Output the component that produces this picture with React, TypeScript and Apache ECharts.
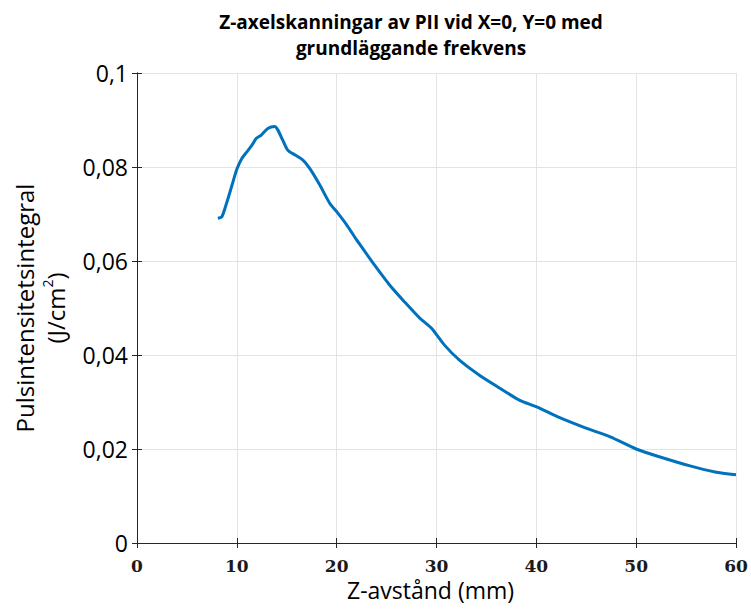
import React, { useEffect, useRef } from "react";
import * as echarts from "echarts";

const zDistance = [8.1, 8.5, 9.0, 9.5, 10.0, 10.5, 11.0, 11.5, 11.95, 12.45, 13.1, 13.8, 14.1, 14.6, 15.1, 15.8, 16.6, 17.3, 18.3, 19.3, 20.0, 21.0, 22.0, 22.5, 23.8, 25.3, 26.8, 28.3, 29.5, 30.8, 32.3, 34.3, 36.3, 38.3, 40.1, 42.4, 44.9, 47.4, 50.0, 52.4, 55.4, 57.9, 60.0];
const pii = [0.0691, 0.0694, 0.0725, 0.0760, 0.0795, 0.0818, 0.0832, 0.0846, 0.0861, 0.0868, 0.0882, 0.0886, 0.0879, 0.0857, 0.0836, 0.0826, 0.0815, 0.0797, 0.0762, 0.0723, 0.0705, 0.0677, 0.0645, 0.0630, 0.0591, 0.0549, 0.0513, 0.0479, 0.0457, 0.0421, 0.0389, 0.0357, 0.0330, 0.0304, 0.0289, 0.0266, 0.0245, 0.0226, 0.0200, 0.0183, 0.0164, 0.0151, 0.0145];

const titleLines = ["Z-axelskanningar av PII vid X=0, Y=0 med", "grundläggande frekvens"];
const xName = "Z-avstånd (mm)";
const yName = "Pulsintensitetsintegral\n(J/cm{sup|2})";

export default function App() {
  const ref = useRef<HTMLDivElement>(null);
  useEffect(() => {
    if (!ref.current) return;
    const chart = echarts.init(ref.current, null, { renderer: "svg" });
    const data = zDistance.map((x, i) => [x, pii[i]]);
    const axisColor = "#262626";
    const gridColor = "#e3e3e3";
    chart.setOption({
      animation: false,
      backgroundColor: "#ffffff",
      title: {
        text: titleLines.join("\n"),
        left: 406,
        textAlign: "center",
        top: 4,
        textStyle: {
          fontFamily: "Open Sans",
          fontWeight: "bold",
          fontSize: 19,
          lineHeight: 26,
          color: "#000",
        },
      },
      grid: { left: 137, right: 15, top: 73, bottom: 66, containLabel: false, outerBoundsMode: "none" },
      xAxis: [
        {
          type: "value",
          min: 0,
          max: 60,
          interval: 10,
          name: xName,
          nameLocation: "middle",
          nameGap: 34,
          nameTextStyle: { fontFamily: "Open Sans", fontSize: 23, color: "#000", padding: [0, 12, 0, 0] },
          axisLine: { show: true, lineStyle: { color: axisColor, width: 1 } },
          axisTick: { show: true, inside: true, length: 5, lineStyle: { color: axisColor } },
          axisLabel: {
            margin: 14,
            fontFamily: "DejaVu Serif",
            fontWeight: "bold",
            fontSize: 17,
            color: "#1a1a1a",
          },
          splitLine: { show: true, lineStyle: { color: gridColor, width: 1 } },
        },
        {
          type: "value",
          position: "top",
          min: 0,
          max: 60,
          interval: 10,
          axisLine: { show: true, lineStyle: { color: axisColor, width: 1 } },
          axisTick: { show: true, inside: true, length: 5, lineStyle: { color: axisColor } },
          axisLabel: { show: false },
          splitLine: { show: false },
        },
      ],
      yAxis: [
        {
          type: "value",
          min: 0,
          max: 0.1,
          interval: 0.02,
          name: yName,
          nameLocation: "middle",
          nameGap: 66,
          nameTextStyle: {
            fontFamily: "Open Sans",
            fontSize: 24,
            lineHeight: 31,
            color: "#000",
            rich: {
              sup: { fontFamily: "Open Sans", fontSize: 14, verticalAlign: "top", lineHeight: 31, padding: [0, 0, 10, 0] },
            },
          },
          axisLine: { show: true, lineStyle: { color: axisColor, width: 1 } },
          axisTick: { show: true, inside: true, length: 5, lineStyle: { color: axisColor } },
          axisLabel: {
            margin: 9,
            fontFamily: "Open Sans",
            fontSize: 23,
            color: "#000",
            formatter: (v: number) => String(+v.toFixed(2)).replace(".", ","),
          },
          splitLine: { show: true, lineStyle: { color: gridColor, width: 1 } },
        },
        {
          type: "value",
          position: "right",
          min: 0,
          max: 0.1,
          interval: 0.02,
          axisLine: { show: true, lineStyle: { color: axisColor, width: 1 } },
          axisTick: { show: true, inside: true, length: 5, lineStyle: { color: axisColor } },
          axisLabel: { show: false },
          splitLine: { show: false },
        },
      ],
      series: [
        {
          type: "line",
          data,
          smooth: 0.25,
          showSymbol: false,
          lineStyle: { color: "#0072BD", width: 3 },
          xAxisIndex: 0,
          yAxisIndex: 0,
        },
      ],
    });
    return () => chart.dispose();
  }, []);
  return (
    <div
      ref={ref}
      style={{ position: "absolute", left: 0, top: 0, width: 751, height: 609 }}
    />
  );
}
